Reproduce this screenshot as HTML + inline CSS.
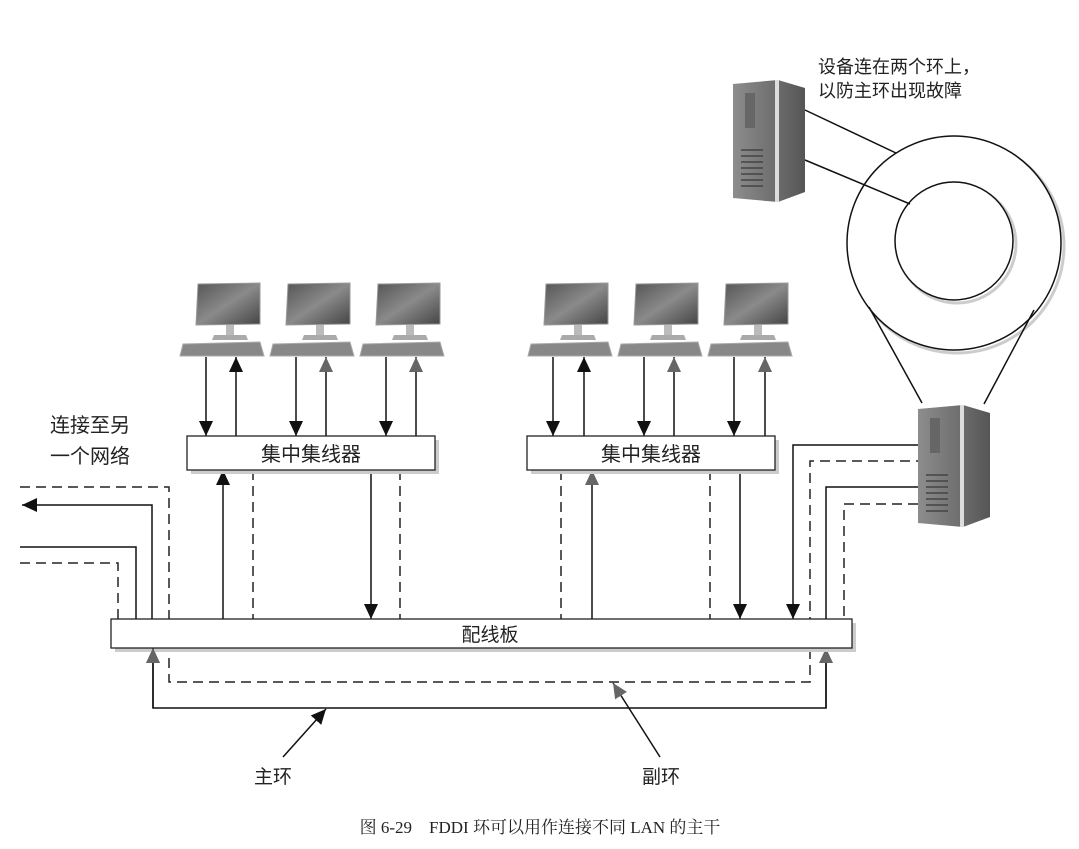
<!DOCTYPE html>
<html><head><meta charset="utf-8"><style>
html,body{margin:0;padding:0;background:#fff;}
svg{display:block;}
text{font-family:"Liberation Sans","Noto Sans CJK SC",sans-serif;fill:#222;}
</style></head><body>
<svg width="1079" height="849" viewBox="0 0 1079 849" xmlns="http://www.w3.org/2000/svg">
<defs>
<linearGradient id="scr" x1="0" y1="0" x2="1" y2="1"><stop offset="0" stop-color="#555"/><stop offset="0.5" stop-color="#8a8a8a"/><stop offset="1" stop-color="#444"/></linearGradient>
<linearGradient id="srv" x1="0" y1="0" x2="1" y2="0"><stop offset="0" stop-color="#8d8d8d"/><stop offset="0.6" stop-color="#6d6d6d"/><stop offset="1" stop-color="#555"/></linearGradient>
<marker id="ab" markerWidth="16" markerHeight="14" refX="15" refY="7" orient="auto" markerUnits="userSpaceOnUse"><path d="M0,0 L15,7 L0,14z" fill="#111"/></marker>
<marker id="ag" markerWidth="16" markerHeight="14" refX="15" refY="7" orient="auto" markerUnits="userSpaceOnUse"><path d="M0,0 L15,7 L0,14z" fill="#666"/></marker>
<g id="pc">
<path d="M0,0 L62,-1 L62,40 L-2,41 Z" fill="url(#scr)" stroke="#999" stroke-width="1"/>
<rect x="28" y="41" width="8" height="10" fill="#bbb"/>
<path d="M16,51 L48,51 L50,56 L14,56Z" fill="#aaa"/>
<path d="M-15,60 L62,58 L66,72 L-18,72 Z" fill="#888" stroke="#aaa"/>
</g>
<g id="srvg">
<path d="M0,6 L45,2 L72,10 L72,114 L45,124 L0,120 Z" fill="url(#srv)"/>
<rect x="42" y="2" width="4" height="122" fill="#ddd"/>
<rect x="12" y="15" width="10" height="35" fill="#666"/>
<g stroke="#444" stroke-width="1.5"><line x1="8" y1="72" x2="30" y2="72"/><line x1="8" y1="78" x2="30" y2="78"/><line x1="8" y1="84" x2="30" y2="84"/><line x1="8" y1="90" x2="30" y2="90"/><line x1="8" y1="96" x2="30" y2="96"/><line x1="8" y1="102" x2="30" y2="102"/><line x1="8" y1="108" x2="30" y2="108"/></g>
</g>
</defs>

<use href="#pc" x="198" y="284"/><use href="#pc" x="288" y="284"/><use href="#pc" x="378" y="284"/>
<use href="#pc" x="546" y="284"/><use href="#pc" x="636" y="284"/><use href="#pc" x="726" y="284"/>

<g stroke="#111" stroke-width="1.5" fill="none">
<line x1="206" y1="357" x2="206" y2="436" marker-end="url(#ab)"/>
<line x1="296" y1="357" x2="296" y2="436" marker-end="url(#ab)"/>
<line x1="386" y1="357" x2="386" y2="436" marker-end="url(#ab)"/>
<line x1="236" y1="436" x2="236" y2="357" marker-end="url(#ab)"/>
<line x1="326" y1="436" x2="326" y2="357" marker-end="url(#ag)"/>
<line x1="416" y1="436" x2="416" y2="357" marker-end="url(#ag)"/>
<line x1="553" y1="357" x2="553" y2="436" marker-end="url(#ab)"/>
<line x1="644" y1="357" x2="644" y2="436" marker-end="url(#ab)"/>
<line x1="734" y1="357" x2="734" y2="436" marker-end="url(#ab)"/>
<line x1="584" y1="436" x2="584" y2="357" marker-end="url(#ab)"/>
<line x1="674" y1="436" x2="674" y2="357" marker-end="url(#ag)"/>
<line x1="765" y1="436" x2="765" y2="357" marker-end="url(#ag)"/>
<line x1="223" y1="619" x2="223" y2="470" marker-end="url(#ab)"/>
<line x1="371" y1="470" x2="371" y2="619" marker-end="url(#ab)"/>
<line x1="592" y1="619" x2="592" y2="470" marker-end="url(#ag)"/>
<line x1="740" y1="470" x2="740" y2="619" marker-end="url(#ab)"/>
<polyline points="152,619 152,505 22,505" marker-end="url(#ab)"/>
<polyline points="20,547 136,547 136,619"/>
<polyline points="918,445 793,445 793,619" marker-end="url(#ab)"/>
<polyline points="918,487 826,487 826,708 153,708 153,648" marker-end="url(#ag)"/>
<line x1="826" y1="708" x2="826" y2="648" marker-end="url(#ag)"/>
<line x1="283" y1="757" x2="326" y2="709" marker-end="url(#ab)"/>
<line x1="660" y1="757" x2="613" y2="683" marker-end="url(#ag)"/>
</g>
<g stroke="#222" stroke-width="1.5" fill="none" stroke-dasharray="10,6">
<line x1="253" y1="470" x2="253" y2="619"/>
<line x1="400" y1="470" x2="400" y2="619"/>
<line x1="561" y1="470" x2="561" y2="619"/>
<line x1="710" y1="470" x2="710" y2="619"/>
<polyline points="20,487 169,487 169,682 810,682 810,461 918,461"/>
<polyline points="20,563 118,563 118,619"/>
<polyline points="918,504 844,504 844,619"/>
</g>

<rect x="191" y="440" width="248" height="34" fill="#ccc"/>
<rect x="187" y="436" width="248" height="34" fill="#fff" stroke="#222" stroke-width="1.3"/>
<text x="311" y="461" font-size="20" text-anchor="middle">集中集线器</text>
<rect x="531" y="440" width="248" height="34" fill="#ccc"/>
<rect x="527" y="436" width="248" height="34" fill="#fff" stroke="#222" stroke-width="1.3"/>
<text x="651" y="461" font-size="20" text-anchor="middle">集中集线器</text>
<rect x="115" y="623" width="741" height="29" fill="#ccc"/>
<rect x="111" y="619" width="741" height="29" fill="#fff" stroke="#222" stroke-width="1.3"/>
<text x="490" y="641" font-size="19" text-anchor="middle">配线板</text>
<g stroke="#111" stroke-width="1.5" fill="none">
<line x1="153" y1="708" x2="153" y2="648" marker-end="url(#ag)"/>
</g>

<circle cx="957" cy="246" r="107" fill="none" stroke="#ccc" stroke-width="3"/>
<circle cx="954" cy="243" r="107" fill="#fff" stroke="#111" stroke-width="1.5"/>
<circle cx="957" cy="244" r="59" fill="none" stroke="#ccc" stroke-width="3"/>
<circle cx="954" cy="241" r="59" fill="#fff" stroke="#111" stroke-width="1.5"/>
<g stroke="#111" stroke-width="1.5">
<line x1="805" y1="110" x2="896" y2="153"/>
<line x1="805" y1="160" x2="910" y2="204"/>
<line x1="869" y1="307" x2="922" y2="403"/>
<line x1="1034" y1="310" x2="984" y2="404"/>
</g>
<use href="#srvg" x="733" y="78"/>
<use href="#srvg" x="918" y="403"/>

<text x="818" y="73" font-size="18">设备连在两个环上，</text>
<text x="818" y="97" font-size="18">以防主环出现故障</text>
<text x="50" y="432" font-size="20">连接至另</text>
<text x="50" y="463" font-size="20">一个网络</text>
<text x="254" y="783" font-size="19">主环</text>
<text x="642" y="783" font-size="19">副环</text>
<text x="540" y="833" font-size="17" text-anchor="middle" style="font-family:'Liberation Serif','Noto Serif CJK SC',serif">图 6-29　FDDI 环可以用作连接不同 LAN 的主干</text>
</svg>
</body></html>
